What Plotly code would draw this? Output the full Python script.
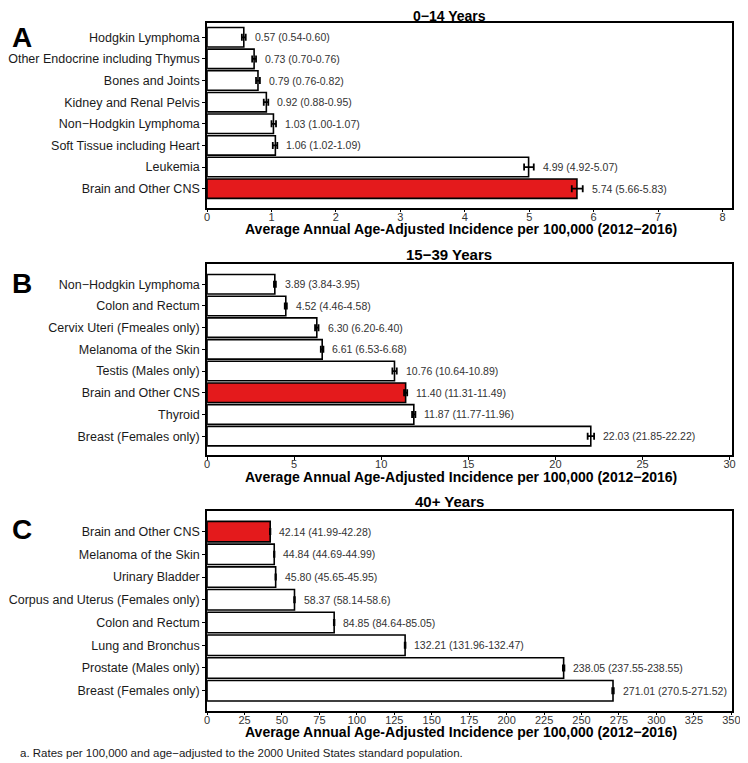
import plotly.graph_objects as go

# ---- Data ----
cats_a = ["Hodgkin Lymphoma", "Other Endocrine including Thymus", "Bones and Joints",
          "Kidney and Renal Pelvis", "Non\u2212Hodgkin Lymphoma", "Soft Tissue including Heart",
          "Leukemia", "Brain and Other CNS"]
val_a = [0.57, 0.73, 0.79, 0.92, 1.03, 1.06, 4.99, 5.74]
lo_a = [0.54, 0.70, 0.76, 0.88, 1.00, 1.02, 4.92, 5.66]
hi_a = [0.60, 0.76, 0.82, 0.95, 1.07, 1.09, 5.07, 5.83]
lab_a = ["0.57 (0.54-0.60)", "0.73 (0.70-0.76)", "0.79 (0.76-0.82)", "0.92 (0.88-0.95)",
         "1.03 (1.00-1.07)", "1.06 (1.02-1.09)", "4.99 (4.92-5.07)", "5.74 (5.66-5.83)"]

cats_b = ["Non\u2212Hodgkin Lymphoma", "Colon and Rectum", "Cervix Uteri (Fmeales only)",
          "Melanoma of the Skin", "Testis (Males only)", "Brain and Other CNS", "Thyroid",
          "Breast (Females only)"]
val_b = [3.89, 4.52, 6.30, 6.61, 10.76, 11.40, 11.87, 22.03]
lo_b = [3.84, 4.46, 6.20, 6.53, 10.64, 11.31, 11.77, 21.85]
hi_b = [3.95, 4.58, 6.40, 6.68, 10.89, 11.49, 11.96, 22.22]
lab_b = ["3.89 (3.84-3.95)", "4.52 (4.46-4.58)", "6.30 (6.20-6.40)", "6.61 (6.53-6.68)",
         "10.76 (10.64-10.89)", "11.40 (11.31-11.49)", "11.87 (11.77-11.96)",
         "22.03 (21.85-22.22)"]

cats_c = ["Brain and Other CNS", "Melanoma of the Skin", "Urinary Bladder",
          "Corpus and Uterus (Females only)", "Colon and Rectum", "Lung and Bronchus",
          "Prostate (Males only)", "Breast (Females only)"]
val_c = [42.14, 44.84, 45.80, 58.37, 84.85, 132.21, 238.05, 271.01]
lo_c = [41.99, 44.69, 45.65, 58.14, 84.64, 131.96, 237.55, 270.5]
hi_c = [42.28, 44.99, 45.95, 58.6, 85.05, 132.47, 238.55, 271.52]
lab_c = ["42.14 (41.99-42.28)", "44.84 (44.69-44.99)", "45.80 (45.65-45.95)",
         "58.37 (58.14-58.6)", "84.85 (84.64-85.05)", "132.21 (131.96-132.47)",
         "238.05 (237.55-238.55)", "271.01 (270.5-271.52)"]

titles = ["0\u221214 Years", "15\u221239 Years", "40+ Years"]
letters = ["A", "B", "C"]
highlight = "Brain and Other CNS"
x_max = [8.15, 30.15, 350.6]
x_dtick = [1, 5, 25]
x_title = "Average Annual Age-Adjusted Incidence per 100,000 (2012\u22122016)"
footnote = "a. Rates per 100,000 and age\u2212adjusted to the 2000 United States standard population."

# ---- Layout geometry (pixels in the 748x763 page) ----
OFF = 8                      # default page body margin
W, H = 748 - OFF, 763 - OFF  # figure size
FONT = "Liberation Sans, Arial, sans-serif"
px_left, px_right = 199.5, 740.0
panels_px = [(23.0, 207.5), (264.3, 455.0), (510.7, 710.5)]  # top, bottom
y_ranges = [[7.87, -0.66], [7.87, -0.92], [7.87, -0.92]]


def fx(px):
    return (px - OFF) / W


def fy(py):
    return 1 - (py - OFF) / H


RED = "#E41A1C"
fig = go.Figure()
panels = [(cats_a, val_a, lo_a, hi_a, lab_a), (cats_b, val_b, lo_b, hi_b, lab_b),
          (cats_c, val_c, lo_c, hi_c, lab_c)]

annotations = []
for i, (cats, vals, los, his, labs) in enumerate(panels):
    n = i + 1
    xa = "x" if n == 1 else f"x{n}"
    ya = "y" if n == 1 else f"y{n}"
    colors = [RED if c == highlight else "white" for c in cats]
    fig.add_trace(go.Bar(
        x=vals, y=cats, orientation="h", width=0.9,
        marker=dict(color=colors, line=dict(color="black", width=1.6)),
        error_x=dict(type="data", symmetric=False,
                     array=[h - v for h, v in zip(his, vals)],
                     arrayminus=[v - l for v, l in zip(vals, los)],
                     color="black", thickness=1.8, width=3.5),
        xaxis=xa, yaxis=ya, showlegend=False, hoverinfo="skip"))
    for c, h, lab in zip(cats, his, labs):
        annotations.append(dict(x=h, y=c, xref=xa, yref=ya, text=lab, showarrow=False,
                                xanchor="left", yanchor="middle", xshift=7,
                                font=dict(family=FONT, size=10.5, color="#333333")))
    top, bot = panels_px[i]
    dom_y = [fy(bot), fy(top)]
    dom_x = [fx(px_left), fx(px_right)]
    axis_common = dict(showline=True, mirror=True, linecolor="black", linewidth=1.6,
                       ticks="outside", ticklen=3, tickcolor="black", tickwidth=1,
                       showgrid=False, zeroline=False)
    fig.update_layout(**{
        ("xaxis" if n == 1 else f"xaxis{n}"): dict(
            domain=dom_x, anchor=ya, range=[0, x_max[i]], tick0=0, dtick=x_dtick[i],
            ticklabelstandoff=-5,
            tickfont=dict(family=FONT, size=11, color="#333333"), **axis_common),
        ("yaxis" if n == 1 else f"yaxis{n}"): dict(
            domain=dom_y, anchor=xa, type="category", categoryorder="array",
            categoryarray=cats, range=y_ranges[i],
            tickfont=dict(family=FONT, size=12.5, color="#1a1a1a"), **axis_common),
    })
    # panel title
    if i == 0:
        annotations.append(dict(x=fx(449), y=fy(25.8), xref="paper", yref="paper",
                                text=f"<b>{titles[i]}</b>", showarrow=False,
                                xanchor="center", yanchor="bottom",
                                font=dict(family=FONT, size=14, color="black")))
    else:
        annotations.append(dict(x=fx(449), y=fy(top - 9.5), xref="paper", yref="paper",
                                text=f"<b>{titles[i]}</b>", showarrow=False,
                                xanchor="center", yanchor="middle",
                                font=dict(family=FONT, size=15, color="black")))
    # x-axis title
    annotations.append(dict(x=fx(461), y=fy(bot + 21.5), xref="paper", yref="paper",
                            text=f"<b>{x_title}</b>", showarrow=False,
                            xanchor="center", yanchor="middle",
                            font=dict(family=FONT, size=14, color="black")))
    # panel letter
    letter_y = [37.0, 283.3, 529.0][i]
    annotations.append(dict(x=fx(-3), y=fy(letter_y), xref="paper", yref="paper",
                            text=f"<b>{letters[i]}</b>", showarrow=False,
                            xanchor="left", yanchor="middle",
                            font=dict(family=FONT, size=28, color="black")))

annotations.append(dict(x=fx(5), y=fy(752.5), xref="paper", yref="paper",
                        text=footnote, showarrow=False, xanchor="left", yanchor="middle",
                        font=dict(family=FONT, size=11.5, color="#1a1a1a")))

fig.update_layout(width=W, height=H, margin=dict(l=0, r=0, t=0, b=0),
                  paper_bgcolor="white", plot_bgcolor="white",
                  annotations=annotations, bargap=0.1)

fig.write_html("out.html")
